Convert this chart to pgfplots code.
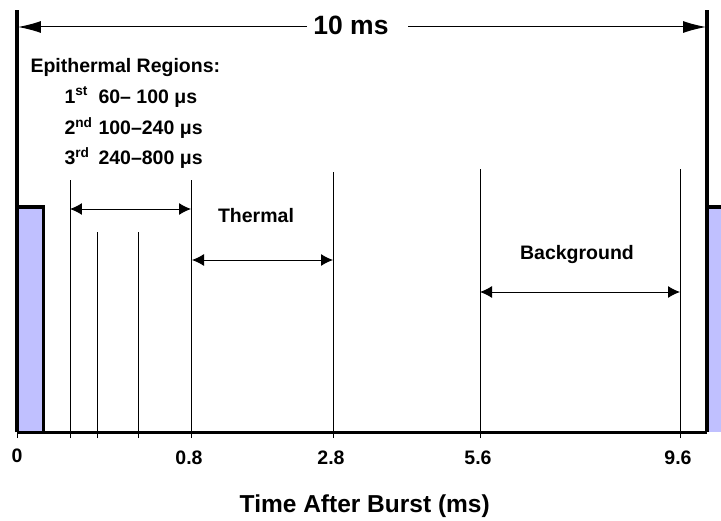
\documentclass[border=0pt]{standalone}
\usepackage{pgfplots}
\pgfplotsset{compat=1.18}
\usetikzlibrary{arrows.meta}
\usepackage{fontspec}
\setmainfont{Liberation Sans}
\definecolor{pulse}{RGB}{192,192,255}
\newcommand{\lbl}{\fontsize{19.5}{23}\selectfont\bfseries}
\begin{document}
\begin{tikzpicture}
\begin{axis}[
  scale only axis, width=690pt, height=422pt,
  xmin=17, xmax=707, ymin=0, ymax=422,
  clip=false,
  axis x line*=bottom, axis y line=none,
  x axis line style={line width=3pt},
  xtick={70,97,138,191,333,480,680},
  xticklabels={,,,0.8,2.8,5.6,9.6},
  extra x ticks={17}, extra x tick labels={0},
  extra x tick style={tick label style={yshift=2pt, xshift=2pt}},
  tick align=outside, major tick length=6pt,
  tick style={black, line width=0.9pt},
  /pgf/number format/assume math mode=true,
  xticklabel style={font=\lbl, xshift=-2pt, yshift=-9pt},
  xlabel={Time After Burst (ms)},
  xlabel style={at={(axis description cs:0.504,0)}, anchor=center, yshift=-74pt,
    font=\fontsize{24.5}{28}\selectfont\bfseries},
  thin line/.style={black, line width=0.9pt},
  span/.style={black, line width=1pt,
    {Latex[length=12pt,width=12pt]}-{Latex[length=12pt,width=12pt]}},
]
% burst pulses
\addplot[draw=black, line width=3pt, fill=pulse] coordinates {(17,0) (17,225) (44,225) (44,0) (17,0)};
\addplot[draw=none, fill=pulse] coordinates {(707,0) (707,225) (722,225) (722,0)};
\addplot[black, line width=3pt] coordinates {(707,225) (722,225)};
\addplot[black, line width=3.3pt] coordinates {(17,0) (17,422)};
\addplot[black, line width=3.3pt] coordinates {(707,0) (707,422)};
% gate boundaries
\addplot[thin line] coordinates {(70,0) (70,252)};
\addplot[thin line] coordinates {(97,0) (97,200)};
\addplot[thin line] coordinates {(138,0) (138,200)};
\addplot[thin line] coordinates {(191,0) (191,252)};
\addplot[thin line] coordinates {(333,0) (333,260)};
\addplot[thin line] coordinates {(480,0) (480,263)};
\addplot[thin line] coordinates {(680,0) (680,263)};
% gate spans
\addplot[span] coordinates {(70,223) (191,223)};
\addplot[span] coordinates {(192,172) (333,172)};
\addplot[span] coordinates {(480,140) (680,140)};
% 10 ms period
\addplot[black, line width=1pt, -{Latex[length=23pt,width=12pt]}] coordinates {(307,405) (18,405)};
\addplot[black, line width=1pt, -{Latex[length=23pt,width=12pt]}] coordinates {(408,405) (706,405)};
\node[font=\fontsize{26.5}{30}\selectfont\bfseries] at (axis cs:351,407) {10 ms};
\node[font=\lbl, anchor=west] at (axis cs:27,364) {Epithermal Regions:};
\node[font=\lbl, anchor=west] at (axis cs:61,335) {\makebox[34pt][l]{1\textsuperscript{st}}60– 100 μs};
\node[font=\lbl, anchor=west] at (axis cs:61,304) {\makebox[34pt][l]{2\textsuperscript{nd}}100–240 μs};
\node[font=\lbl, anchor=west] at (axis cs:61,274) {\makebox[34pt][l]{3\textsuperscript{rd}}240–800 μs};
\node[font=\lbl] at (axis cs:256,216) {Thermal};
\node[font=\lbl] at (axis cs:577,177) {Background};
\coordinate (bl) at (axis cs:0,-88);
\coordinate (tr) at (axis cs:721,432);
\end{axis}
\pgfresetboundingbox
\path (bl) rectangle (tr);
\end{tikzpicture}
\end{document}
